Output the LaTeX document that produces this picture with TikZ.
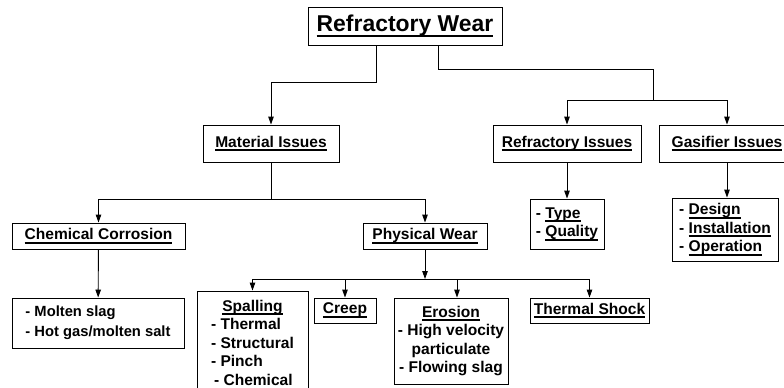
\documentclass[tikz,border=0pt]{standalone}
\usepackage{fontspec}
\setmainfont{Liberation Sans}
\usetikzlibrary{arrows.meta}
\newcommand{\ulin}[2][1.8pt]{\setbox0=\hbox{#2}\rlap{\lower2.2\dimexpr#1\relax\hbox{\vrule width\wd0 height#1 depth0pt}}\box0}

\begin{document}
\begin{tikzpicture}[x=1bp,y=-1bp]
\pgfmathsetmacro{\busY}{279}

\tikzstyle{box}=[draw,line width=0.9bp,inner sep=0pt,font=\bfseries\fontsize{15.6}{18.5}\selectfont]
\tikzstyle{arr}=[line width=0.9bp,-{Triangle[length=8bp,width=5.5bp]}]
\tikzstyle{con}=[line width=0.9bp]
\useasboundingbox (0,0) rectangle (784,387);

\node[box,minimum width=194bp,minimum height=38bp,font=\bfseries\fontsize{23}{26}\selectfont] (wear) at (405,26) {\ulin[2.7pt]{Refractory Wear}};

\node[box,minimum width=136bp,minimum height=37bp] (material) at (271,143.5) {\ulin{Material Issues}};
\node[box,minimum width=148bp,minimum height=37bp] (refrac) at (567,143.5) {\ulin{Refractory Issues}};
\node[box,minimum width=136bp,minimum height=37bp] (gasif) at (727,143.5) {\ulin{Gasifier Issues}};

\node[box,minimum width=173bp,minimum height=26bp] (chem) at (98.5,236) {\ulin{Chemical Corrosion}};
\node[box,minimum width=124bp,minimum height=26bp] (phys) at (425,236) {\ulin{Physical Wear}};
\node[box,minimum width=74bp,minimum height=50bp,align=left] (type) at (567,224) {- \ulin{Type}\\- \ulin{Quality}};
\node[box,minimum width=106bp,minimum height=63bp,align=left] (design) at (725,229.5) {- \ulin{Design}\\- \ulin{Installation}\\- \ulin{Operation}};

\node[box,minimum width=172bp,minimum height=50bp,align=left,font=\bfseries\fontsize{14.8}{20}\selectfont] (molten) at (98,323) {- Molten slag\\- Hot gas/molten salt};

\node[box,minimum width=111bp,minimum height=107bp] (spall) at (252.5,344.5) {\begin{tabular}{@{}l@{}}\multicolumn{1}{@{}c@{}}{\ulin{Spalling}}\\- Thermal\\- Structural\\- Pinch\\\hspace{3bp}- Chemical\end{tabular}};
\node[box,minimum width=62bp,minimum height=25bp] (creep) at (345,310.5) {\ulin{Creep}};
\node[box,minimum width=114bp,minimum height=86bp,align=center] (erosion) at (451,341) {\ulin{Erosion}\\- High velocity\\particulate\\- Flowing slag};
\node[box,minimum width=119bp,minimum height=25bp] (shock) at (589.5,310.5) {\ulin{Thermal Shock}};

\coordinate (tL) at (376,82);
\coordinate (tR) at (438,69);
\coordinate (jR) at (653,100);
\coordinate (jM) at (271,199);
\coordinate (jP) at (425,\busY);
\coordinate (jE) at (457,\busY);

\draw[arr] (wear.south -| tL) -- (tL) -| (material.north);
\draw[con] (wear.south -| tR) -- (tR) -| (jR);
\draw[arr] (jR) -| (refrac.north);
\draw[arr] (jR) -| (gasif.north);

\draw[con] (material.south) -- (jM);
\draw[arr] (jM) -| (chem.north);
\draw[arr] (jM) -| (phys.north);
\draw[arr] (chem) -- (molten);
\draw[arr] (refrac) -- (type);
\draw[arr] (gasif.south) -- (gasif.south |- design.north);

\draw[arr] (phys.south) -- (jP);
\draw[arr] (jP) -| (spall.north);
\draw[arr] (jP) -| (creep.north);
\draw[arr] (jE) -- (jE |- erosion.north);
\draw[arr] (jP) -| (shock.north);
\end{tikzpicture}
\end{document}
